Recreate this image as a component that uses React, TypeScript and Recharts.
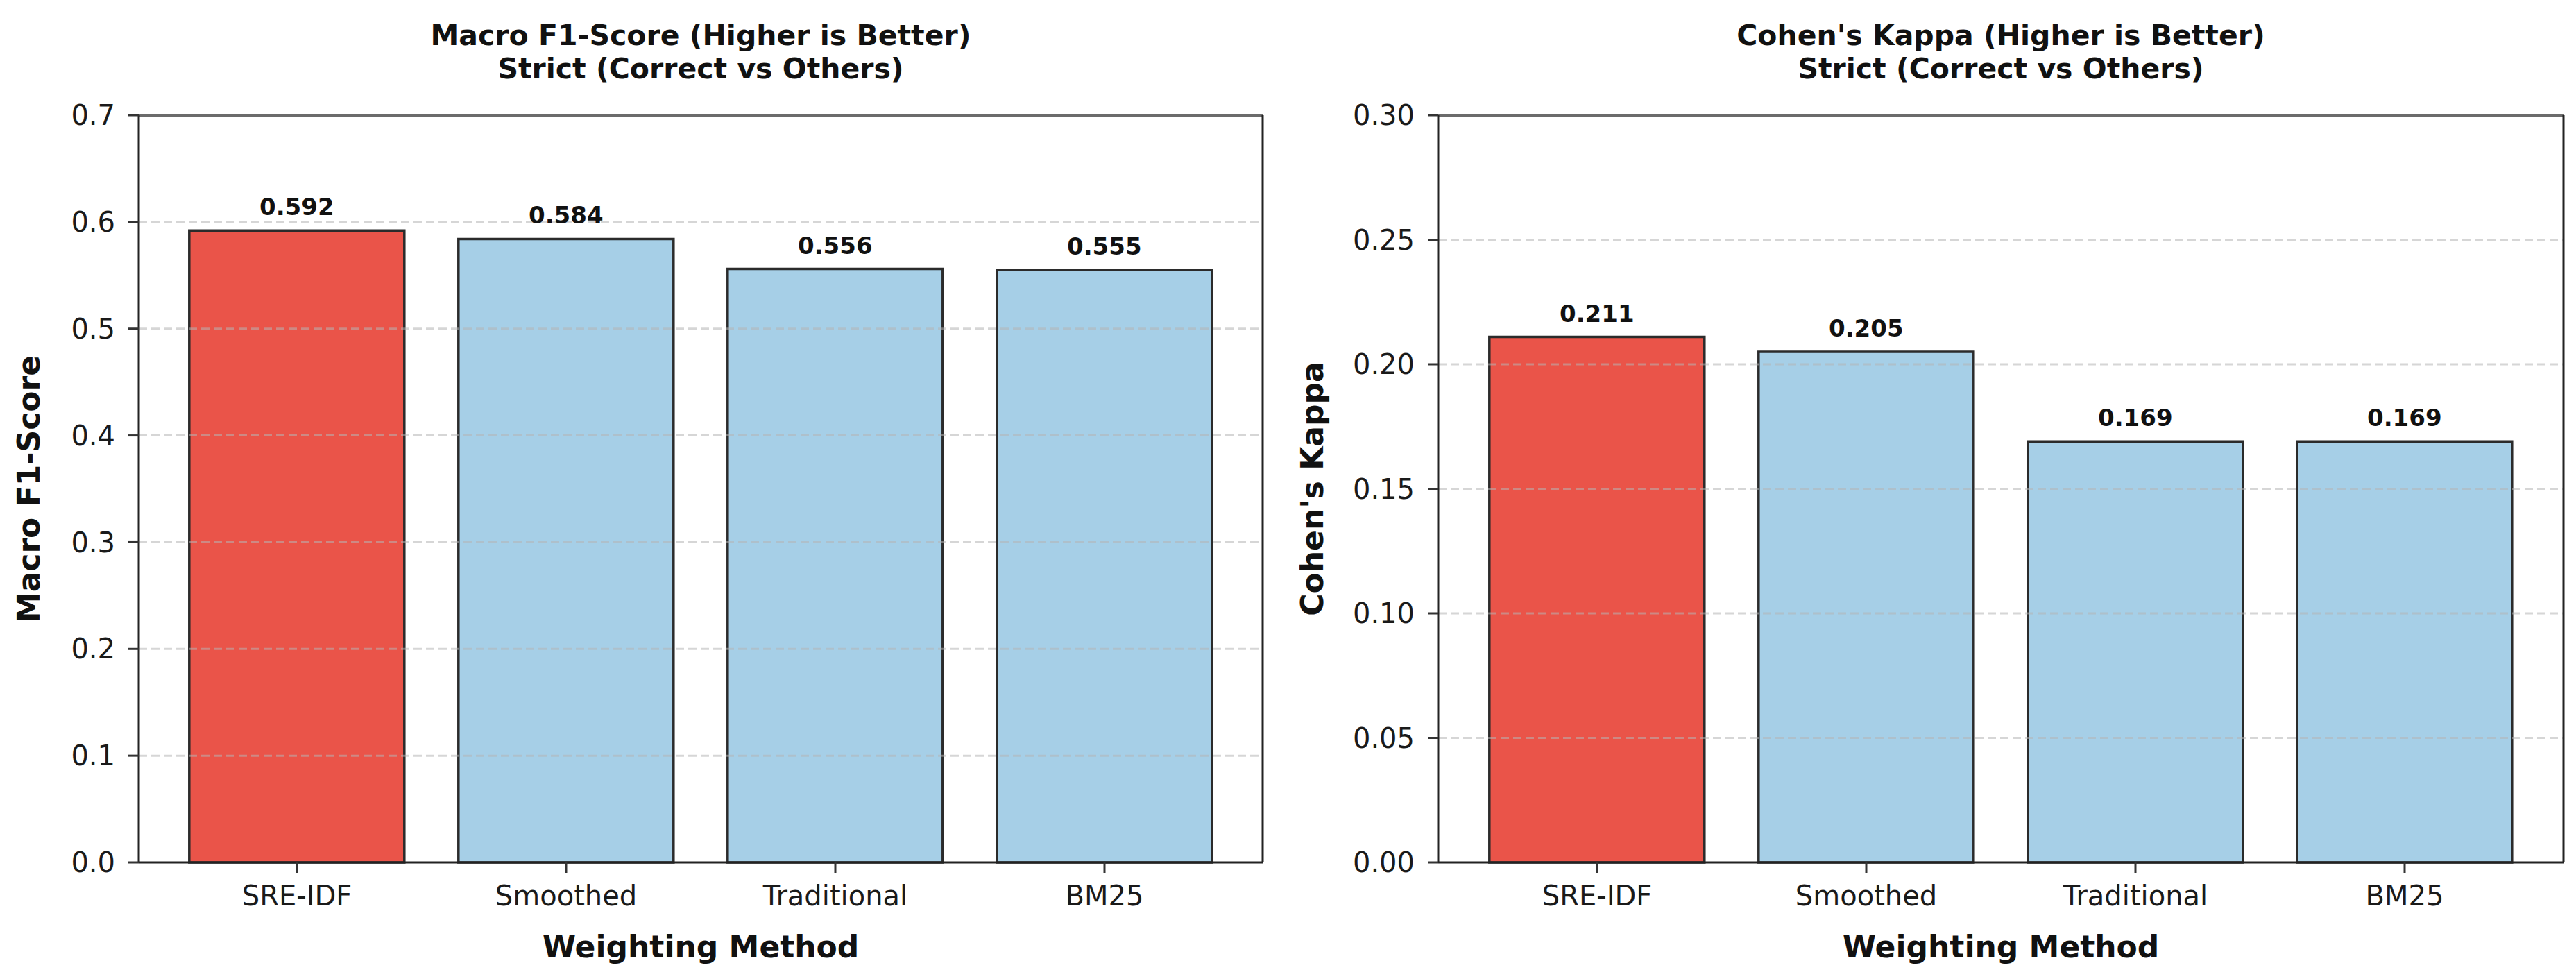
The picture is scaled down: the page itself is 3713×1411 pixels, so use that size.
import React from 'react';
import { BarChart, Bar, XAxis, YAxis, Cell, LabelList, ReferenceLine } from 'recharts';

const categories = ['SRE-IDF', 'Smoothed', 'Traditional', 'BM25'];
const f1Values = [0.592, 0.584, 0.556, 0.555];
const kappaValues = [0.211, 0.205, 0.169, 0.169];
const f1Ticks = [0, 0.1, 0.2, 0.3, 0.4, 0.5, 0.6, 0.7];
const kappaTicks = [0, 0.05, 0.1, 0.15, 0.2, 0.25, 0.3];

const FONT = '"DejaVu Sans", sans-serif';
const H = 1411;
const PLOT_TOP = 166;
const PLOT_BOTTOM = 1243;
const RED = '#ea5449';
const BLUE = '#a6cfe7';
const EDGE = '#2b2b2b';
const TICK = { fontFamily: FONT, fontSize: 40, fill: '#1a1a1a' };

interface PanelProps {
  title: string;
  yLabel: string;
  values: number[];
  ticks: number[];
  digits: number;
  left: number;
  width: number;
  plotLeft: number;
  plotRight: number;
  yLabelX: number;
}

function Panel({ title, yLabel, values, ticks, digits, left, width, plotLeft, plotRight, yLabelX }: PanelProps) {
  const data = categories.map((name, i) => ({ name, value: values[i] }));
  const best = values.indexOf(Math.max(...values));
  const yMax = ticks[ticks.length - 1];
  const cx = (plotLeft + plotRight) / 2;
  const cy = (PLOT_TOP + PLOT_BOTTOM) / 2;
  const pad = Math.round((plotRight - plotLeft - 388 * categories.length) / 2);

  // axes take 1px each (a 0px axis is not drawn)
  return (
    <div style={{ position: 'absolute', left, top: 0, width, height: H }}>
      <BarChart
        width={width}
        height={H}
        data={data}
        barCategoryGap="10%"
        margin={{ top: PLOT_TOP - 1, left: plotLeft - 1, right: width - plotRight - 1, bottom: H - PLOT_BOTTOM - 1 }}
      >
        <XAxis
          dataKey="name"
          height={1}
          padding={{ left: pad, right: pad }}
          tick={TICK}
          tickSize={15}
          tickMargin={19}
          tickLine={{ stroke: '#333', strokeWidth: 3 }}
          axisLine={{ stroke: '#222', strokeWidth: 3 }}
        />
        <XAxis xAxisId="top" orientation="top" dataKey="name" height={1} tick={false} tickLine={false}
          axisLine={{ stroke: '#6b6b6b', strokeWidth: 4 }} />
        <YAxis
          width={1}
          domain={[0, yMax]}
          ticks={ticks}
          interval={0}
          tickFormatter={(v: number) => v.toFixed(digits)}
          tick={TICK}
          tickSize={15}
          tickMargin={19}
          tickLine={{ stroke: '#333', strokeWidth: 3 }}
          axisLine={{ stroke: '#222', strokeWidth: 3 }}
        />
        <YAxis yAxisId="right" orientation="right" width={1} domain={[0, yMax]} tick={false} tickLine={false}
          axisLine={{ stroke: '#222', strokeWidth: 3 }} />
        <Bar dataKey="value" stroke={EDGE} strokeWidth={3.5} isAnimationActive={false}>
          {data.map((d, i) => (
            <Cell key={d.name} fill={i === best ? RED : BLUE} />
          ))}
          <LabelList
            dataKey="value"
            position="top"
            offset={22}
            formatter={(v: number) => Number(v).toFixed(3)}
            fontFamily={FONT}
            fontSize={34}
            fontWeight="bold"
            fill="#111"
          />
        </Bar>
        {ticks.filter(t => t > 0 && t < yMax).map(t => (
          <ReferenceLine key={t} y={t} zIndex={400} stroke="#b4b4b4" strokeOpacity={0.55} strokeWidth={3} strokeDasharray="12 6" />
        ))}
      </BarChart>

      {/* titles and axis labels */}
      <svg width={width} height={H} style={{ position: 'absolute', left: 0, top: 0, pointerEvents: 'none' }}>
        <g fontFamily={FONT} fontWeight="bold" fill="#111" textAnchor="middle">
          {title.split('\n').map((line, i) => (
            <text key={i} x={cx} y={65 + i * 48} fontSize={41}>{line}</text>
          ))}
          <text x={cx} y={1380} fontSize={44}>Weighting Method</text>
          <text x={yLabelX} y={cy} fontSize={44} transform={`rotate(-90 ${yLabelX} ${cy})`}>{yLabel}</text>
        </g>
      </svg>
    </div>
  );
}

export default function App() {
  return (
    <div style={{ position: 'absolute', left: 0, top: 0, width: 3713, height: H, background: '#fff' }}>
      <Panel
        title={'Macro F1-Score (Higher is Better)\nStrict (Correct vs Others)'}
        yLabel="Macro F1-Score"
        values={f1Values}
        ticks={f1Ticks}
        digits={1}
        left={0}
        width={1860}
        plotLeft={200}
        plotRight={1820}
        yLabelX={57}
      />
      <Panel
        title={"Cohen's Kappa (Higher is Better)\nStrict (Correct vs Others)"}
        yLabel="Cohen's Kappa"
        values={kappaValues}
        ticks={kappaTicks}
        digits={2}
        left={1860}
        width={1853}
        plotLeft={213}
        plotRight={1835}
        yLabelX={47}
      />
    </div>
  );
}
